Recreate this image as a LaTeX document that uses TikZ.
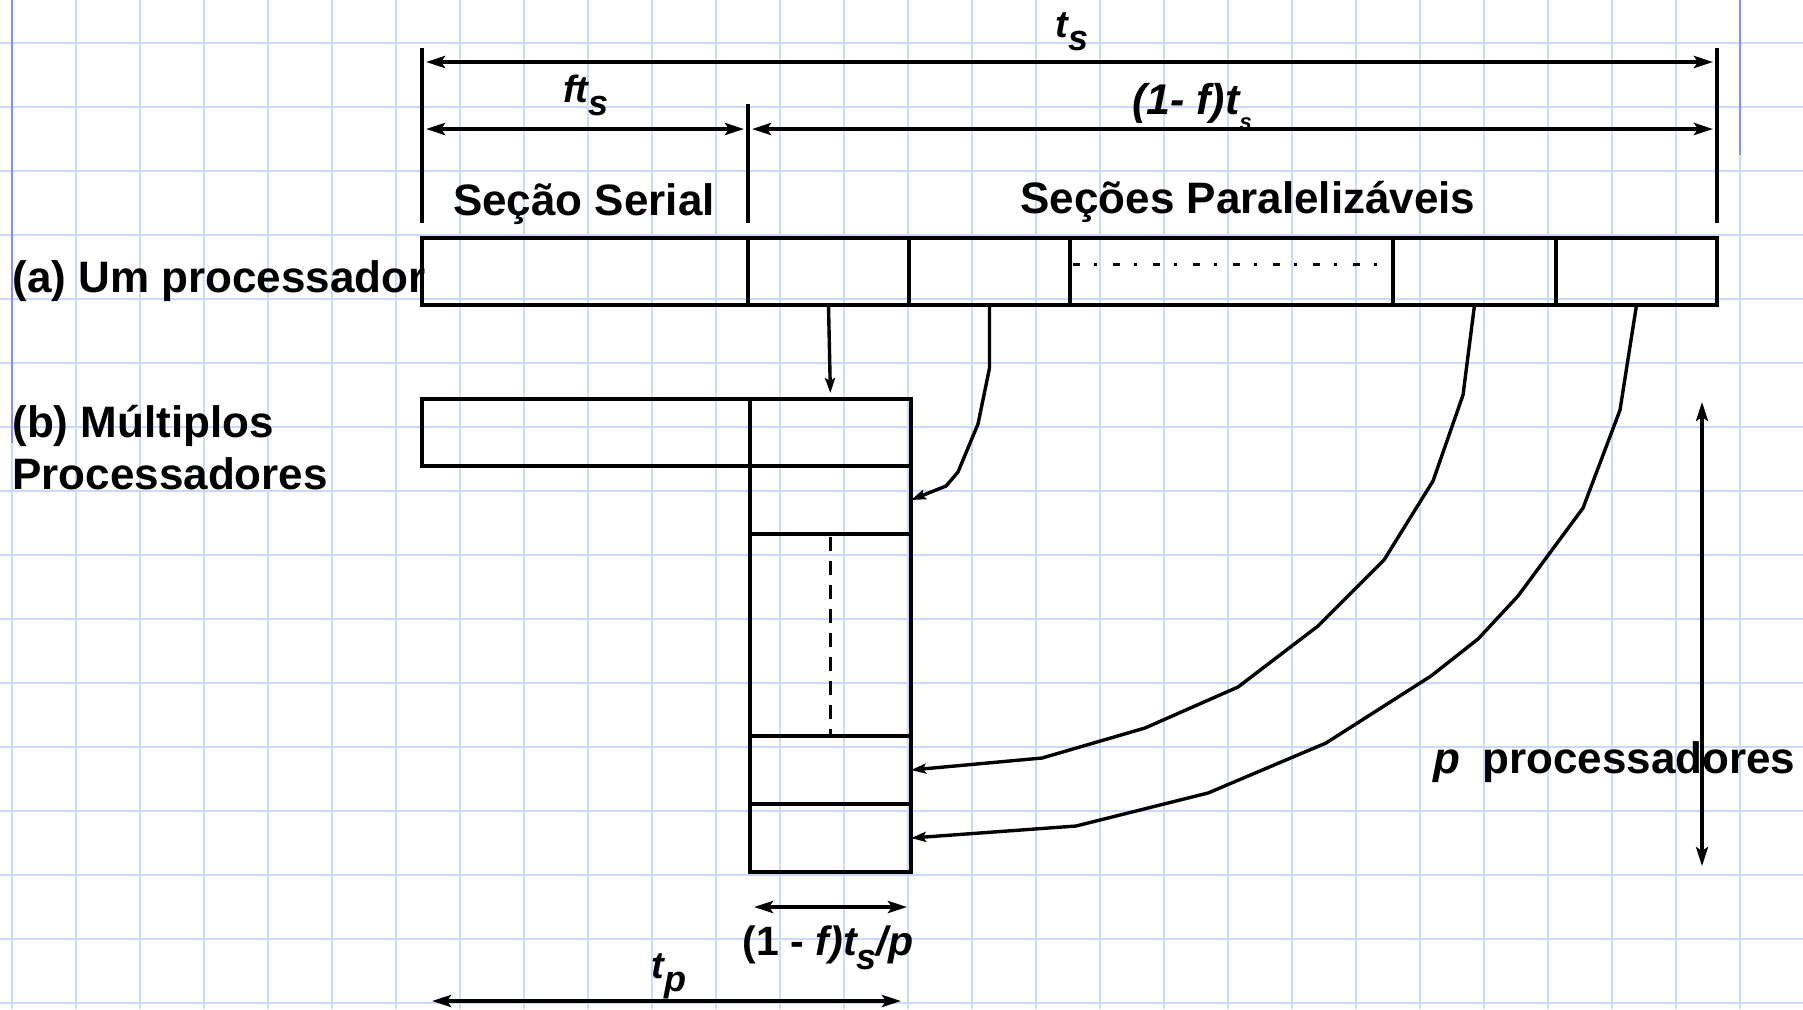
\documentclass[tikz,border=0pt]{standalone}
\usepackage{fontspec}
\usepackage{graphicx}
\setmainfont{Liberation Sans}
\usetikzlibrary{arrows.meta,positioning}
\definecolor{gridblue}{HTML}{CCD8FD}
\definecolor{marginblue}{HTML}{7D94F6}
\newcommand{\lsub}[2]{\raisebox{-0.35em}{\fontsize{#1}{#1}\selectfont #2}}

\begin{document}
\begin{tikzpicture}[x=0.5pt, y=-0.5pt,
  font=\bfseries\fontsize{22}{26}\selectfont,
  gridline/.style={gridblue, line width=1pt},
  margin/.style={marginblue, line width=1.1pt},
  cell/.style={draw, line width=1.7pt, anchor=north west, inner sep=0pt, outer sep=0pt,
               minimum height=33.5pt, minimum width=#1},
  cell/.default=80.5pt,
  txt/.style={inner sep=0pt, anchor=base west},
  lbl/.style={inner sep=0pt, anchor=base, font=\bfseries\itshape\fontsize{19}{22}\selectfont},
  tick/.style={line width=2pt},
  dim/.style={line width=2.1pt, {Stealth[length=9.5pt,width=6pt,inset=2pt]}-{Stealth[length=9.5pt,width=6pt,inset=2pt]},
              shorten >=2pt, shorten <=2pt},
  flow/.style={line width=1.7pt, line join=round, -{Stealth[length=7.5pt,width=5pt,inset=1.5pt]}},
  dots/.style={line width=1.7pt, dash pattern=on 3.5pt off 7pt on 1.5pt off 8pt},
  dashes/.style={line width=1.5pt, dash pattern=on 7pt off 5pt}]
\useasboundingbox (0,0) rectangle (1803,1009);
\fill[white] (0,0) rectangle (1803,1009);
% squared paper
\foreach \x in {12,76,...,1740} \draw[gridline] (\x,0) -- (\x,1009);
\foreach \y in {43,107,...,1003} \draw[gridline] (0,\y) -- (1803,\y);
\draw[margin] (12,0) -- (12,443);
\draw[margin] (1740,0) -- (1740,155);
% (a) one processor
\node[cell=163pt] (sA) at (422,238) {};
\node[cell] (pA1) at (748,238) {};
\node[cell] (pA2) at (909,238) {};
\node[cell=161.5pt] (pAd) at (1070,238) {};
\node[cell=81.5pt] (pA3) at (1393,238) {};
\node[cell] (pA4) at (1556,238) {};
\draw[dots] ([xshift=1.5pt, yshift=3.5pt]pAd.west) -- ([xshift=-7pt, yshift=3.5pt]pAd.east);
% (b) multiple processors
\node[cell=164pt] (sB) at (422,399) {};
\node[cell] (cB1) at (750,399) {};
\node[cell, minimum height=34pt] (cB2) at (750,466) {};
\node[cell, minimum height=101pt] (cBd) at (750,534) {};
\node[cell, minimum height=34pt] (cB3) at (750,736) {};
\node[cell, minimum height=34pt] (cB4) at (750,804) {};
\draw[dashes] ([yshift=-1.5pt]cBd.north) -- (cBd.south);
% texts
\node[txt] (lblA) at (12,292) {(a) Um processador};
\node[txt] (lblB1) at (12,437) {(b) Múltiplos};
\node[txt] (lblB2) at (12,489) {Processadores};
\node[txt, anchor=base] (serial) at (584,215) {Seção Serial};
\node[txt, anchor=base] (par) at (1248,213) {Seções Paralelizáveis};
\node[txt] (procs) at (1433,773) {\textit{p}\hspace{0.5em}processadores};
% dimensions
\draw[tick] ([yshift=7.5pt]sA.north west) -- ++(0,-175);
\draw[tick] ([yshift=7.5pt]pA1.north west) -- ++(0,-119);
\draw[tick] ([yshift=7.5pt]pA4.north east) -- ++(0,-175);
\draw[dim] (sA.west |- 0,62) -- (pA4.east |- 0,62);
\draw[dim] (sA.west |- 0,129) -- (pA1.west |- 0,129);
\draw[dim] (pA1.west |- 0,129) -- (pA4.east |- 0,129);
\node[lbl] (ts) at (1072,37) {t\lsub{18}{s}};
\node[lbl] (fts) at (586,102) {ft\lsub{18}{s}};
\node[lbl, font=\bfseries\itshape\fontsize{21.5}{24}\selectfont] (omf) at (1192,114) {(1- f)t\lsub{11}{s}};
\draw[dim] ([yshift=-17.5pt]cB4.south west) -- ([yshift=-17.5pt]cB4.south east);
\node[lbl, font=\bfseries\fontsize{20.5}{24}\selectfont] (omfp) at (828,955) {(1 - {\itshape f)t\lsub{18}{s}/p}};
\draw[dim, shorten >=5pt, shorten <=5pt] (sB.west |- 0,1001) -- (cB4.east |- 0,1001);
\node[lbl] (tp) at (669,978) {t\lsub{18}{p}};
\coordinate (pTop) at (1702,402);
\coordinate (pBot) at (1702,866);
\draw[dim, line width=1.7pt, shorten >=0pt, shorten <=0pt] (pTop) -- (pBot);
% distribution to processors
\draw[flow, shorten >=3pt] (pA1.south) -- (cB1.north);
\draw[flow] (pA2.south) -- ++(0,63) -- (978,424) -- (958,472) -- (946,486) -- (cB2.east);
\draw[flow] (pA3.south) -- (1463,395) -- (1433,481) -- (1384,560) -- (1318,626) -- (1238,687)
  -- (1145,728) -- (1042,758) -- (cB3.east);
\draw[flow] (pA4.south) -- (1620,410) -- (1583,508) -- (1518,596) -- (1478,639) -- (1431,676)
  -- (1326,743) -- (1208,793) -- (1076,826) -- (cB4.east);
\end{tikzpicture}
\end{document}
